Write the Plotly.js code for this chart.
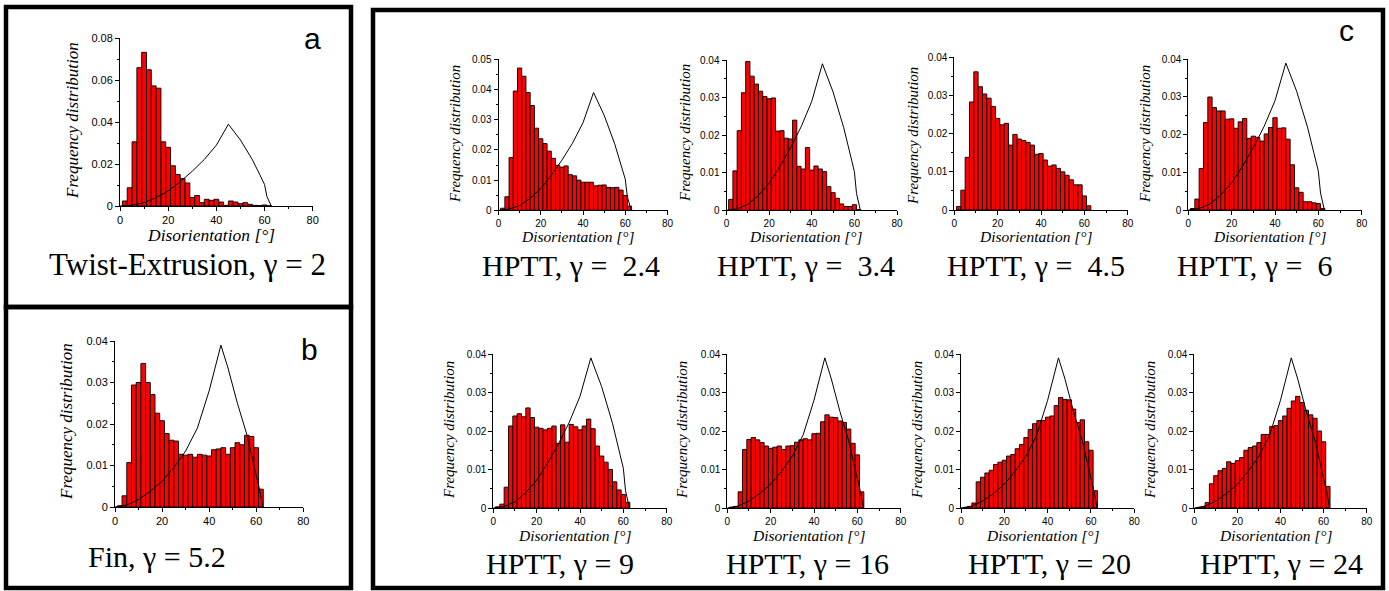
<!DOCTYPE html>
<html><head><meta charset="utf-8">
<script src="https://cdn.plot.ly/plotly-3.0.1.min.js"></script>
<style>html,body{margin:0;padding:0;background:#fff;}#chart{width:1389px;height:591px;}</style>
</head><body><div id="chart"></div>
<script>
// ---------- data ----------
const binCenters = [2,4,6,8,10,12,14,16,18,20,22,24,26,28,30,32,34,36,38,40,42,44,46,48,50,52,54,56,58,60,62];

const freqTwistExtrusion = [0.0024,0.0087,0.0306,0.0660,0.0733,0.0650,0.0573,0.0562,0.0306,0.0280,0.0192,0.0150,0.0131,0.0110,0.0041,0.0050,0.0016,0.0032,0.0027,0.0032,0.0019,0.0003,0.0024,0.0019,0.0011,0.0016,0.0008,0.0003,0.0002,0.0005,0.0001];
const freqFin = [0.0003,0.0027,0.0107,0.0294,0.0300,0.0346,0.0300,0.0271,0.0226,0.0208,0.0177,0.0161,0.0159,0.0127,0.0125,0.0127,0.0120,0.0127,0.0125,0.0123,0.0138,0.0140,0.0143,0.0127,0.0143,0.0155,0.0150,0.0173,0.0170,0.0143,0.0043];
const freqHPTT_2_4 = [0.0007,0.0045,0.0175,0.0395,0.0471,0.0444,0.0390,0.0347,0.0272,0.0237,0.0221,0.0196,0.0172,0.0149,0.0143,0.0147,0.0118,0.0114,0.0100,0.0093,0.0093,0.0093,0.0081,0.0083,0.0084,0.0076,0.0075,0.0076,0.0067,0.0049,0.0014];
const freqHPTT_3_4 = [0.0029,0.0105,0.0212,0.0313,0.0396,0.0357,0.0336,0.0317,0.0303,0.0297,0.0299,0.0211,0.0212,0.0192,0.0190,0.0240,0.0117,0.0110,0.0167,0.0107,0.0118,0.0110,0.0103,0.0063,0.0047,0.0032,0.0017,0.0010,0.0010,0.0015,0.0002];
const freqHPTT_4_5 = [0.0009,0.0052,0.0138,0.0283,0.0362,0.0323,0.0304,0.0293,0.0271,0.0240,0.0223,0.0227,0.0170,0.0198,0.0186,0.0182,0.0177,0.0170,0.0146,0.0148,0.0131,0.0115,0.0118,0.0109,0.0100,0.0091,0.0079,0.0066,0.0066,0.0037,0.0011];
const freqHPTT_6 = [0.0004,0.0029,0.0110,0.0232,0.0300,0.0272,0.0263,0.0263,0.0241,0.0242,0.0217,0.0234,0.0243,0.0190,0.0196,0.0193,0.0183,0.0202,0.0219,0.0245,0.0217,0.0218,0.0188,0.0120,0.0059,0.0047,0.0022,0.0022,0.0019,0.0017,0.0004];
const freqHPTT_9 = [0.0003,0.0010,0.0054,0.0213,0.0239,0.0245,0.0237,0.0260,0.0235,0.0210,0.0207,0.0203,0.0207,0.0213,0.0168,0.0216,0.0171,0.0217,0.0211,0.0203,0.0213,0.0231,0.0206,0.0161,0.0135,0.0119,0.0100,0.0068,0.0047,0.0035,0.0015];
const freqHPTT_16 = [0.0002,0.0004,0.0042,0.0152,0.0178,0.0183,0.0177,0.0170,0.0161,0.0155,0.0158,0.0161,0.0152,0.0161,0.0162,0.0171,0.0177,0.0180,0.0177,0.0193,0.0194,0.0224,0.0242,0.0236,0.0235,0.0226,0.0222,0.0205,0.0168,0.0138,0.0042];
const freqHPTT_20 = [0.0001,0.0004,0.0013,0.0068,0.0080,0.0091,0.0098,0.0113,0.0119,0.0124,0.0135,0.0139,0.0154,0.0165,0.0183,0.0204,0.0219,0.0227,0.0227,0.0236,0.0239,0.0266,0.0287,0.0282,0.0281,0.0257,0.0222,0.0229,0.0172,0.0150,0.0045];
const freqHPTT_24 = [0.0001,0.0003,0.0014,0.0063,0.0084,0.0097,0.0103,0.0120,0.0116,0.0123,0.0131,0.0150,0.0157,0.0161,0.0170,0.0191,0.0191,0.0212,0.0214,0.0227,0.0239,0.0259,0.0278,0.0290,0.0274,0.0254,0.0242,0.0233,0.0200,0.0172,0.0056];

// random (Mackenzie) reference curve, two drawn variants
const curveKinkX = [0,5,10,15,20,25,30,35,40,45,50,55,58,60,61,62,62.8];
const curveKinkY = [0,0.0004,0.0016,0.0040,0.0072,0.0116,0.0166,0.0222,0.0290,0.0390,0.0315,0.0220,0.0150,0.0103,0.0045,0.0015,0];
const curveSmoothX = [0,5,10,15,20,25,30,35,40,45,48,52,56,59.5,61.5,62.8];
const curveSmoothY = [0,0.0005,0.0018,0.0038,0.0062,0.0095,0.0135,0.0190,0.0280,0.0390,0.0335,0.0250,0.0175,0.0092,0.0040,0];

const xTickVals = [0,20,40,60,80];
const xTickText = ['0','20','40','60','80'];
const xMinorVals = [10,30,50,70];
const yTicks08 = [0,0.02,0.04,0.06,0.08], yText08 = ['0','0.02','0.04','0.06','0.08'], yMinor08 = [0.01,0.03,0.05,0.07];
const yTicks05 = [0,0.01,0.02,0.03,0.04,0.05], yText05 = ['0','0.01','0.02','0.03','0.04','0.05'], yMinor05 = [0.005,0.015,0.025,0.035,0.045];
const yTicks04 = [0,0.01,0.02,0.03,0.04], yText04 = ['0','0.01','0.02','0.03','0.04'], yMinor04 = [0.005,0.015,0.025,0.035];

const captionTexts = ['Twist-Extrusion, γ = 2','Fin, γ = 5.2','HPTT, γ =\u00A0 2.4','HPTT, γ =\u00A0 3.4','HPTT, γ =\u00A0 4.5','HPTT, γ =\u00A0 6','HPTT, γ = 9','HPTT, γ = 16','HPTT, γ = 20','HPTT, γ = 24'];
const yTitle = 'Frequency distribution';
const xTitle = 'Disorientation [°]';

// ---------- layout (pixel geometry) ----------
const W = 1389, H = 591;
const px = v => v / W, py = v => 1 - v / H;

const panels = [
  {data: freqTwistExtrusion, curve: 'kink',  x0:120,   x1:312.7,  yt:38.3, yb:206, yr:0.08, yt_v:yTicks08, yt_t:yText08, ym:yMinor08, big:true,  ylab:[72,121],  xlab:[211,235], cap:[187,264]},
  {data: freqFin,            curve: 'smooth',x0:115,   x1:303.3,  yt:341,  yb:507, yr:0.04, yt_v:yTicks04, yt_t:yText04, ym:yMinor04, big:true,  ylab:[66,422],  xlab:null,      cap:[157,556]},
  {data: freqHPTT_2_4,       curve: 'kink',  x0:498.5, x1:667.5,  yt:59.3, yb:210.3,yr:0.05, yt_v:yTicks05, yt_t:yText05, ym:yMinor05, big:false, ylab:[455,134], xlab:[578,236], cap:[571,265]},
  {data: freqHPTT_3_4,       curve: 'kink',  x0:726.5, x1:897,    yt:60,   yb:210.3,yr:0.04, yt_v:yTicks04, yt_t:yText04, ym:yMinor04, big:false, ylab:[685,133], xlab:[806,236], cap:[806,265]},
  {data: freqHPTT_4_5,       curve: null,    x0:954.3, x1:1127.7, yt:57.3, yb:210,  yr:0.04, yt_v:yTicks04, yt_t:yText04, ym:yMinor04, big:false, ylab:[913,136], xlab:[1036,236],cap:[1036,265]},
  {data: freqHPTT_6,         curve: 'kink',  x0:1188.3,x1:1361.7, yt:59.3, yb:210,  yr:0.04, yt_v:yTicks04, yt_t:yText04, ym:yMinor04, big:false, ylab:[1145,134],xlab:[1270,236],cap:[1254,265]},
  {data: freqHPTT_9,         curve: 'kink',  x0:493.3, x1:666.7,  yt:354,  yb:508,  yr:0.04, yt_v:yTicks04, yt_t:yText04, ym:yMinor04, big:false, ylab:[449,430], xlab:[575,535], cap:[560,563]},
  {data: freqHPTT_16,        curve: 'smooth',x0:727.3, x1:900.7,  yt:354,  yb:508,  yr:0.04, yt_v:yTicks04, yt_t:yText04, ym:yMinor04, big:false, ylab:[682,430], xlab:[809,535], cap:[807,563]},
  {data: freqHPTT_20,        curve: 'smooth',x0:961,   x1:1134.3, yt:354,  yb:508,  yr:0.04, yt_v:yTicks04, yt_t:yText04, ym:yMinor04, big:false, ylab:[917,430], xlab:[1043,535],cap:[1049,563]},
  {data: freqHPTT_24,        curve: 'smooth',x0:1194.3,x1:1366.7, yt:354,  yb:508,  yr:0.04, yt_v:yTicks04, yt_t:yText04, ym:yMinor04, big:false, ylab:[1150,430],xlab:[1276,535],cap:[1281,563]}
];

const sans = 'Liberation Sans, Arial, sans-serif';
const serif = 'Liberation Serif, Times New Roman, serif';

const traces = [];
const layout = {
  width: W, height: H, margin: {l:0, r:0, t:0, b:0},
  paper_bgcolor: '#ffffff', plot_bgcolor: 'rgba(0,0,0,0)',
  showlegend: false, bargap: 0,
  annotations: [], shapes: []
};

panels.forEach((p, i) => {
  const n = i === 0 ? '' : String(i + 1);
  const xa = 'x' + n, ya = 'y' + n;
  traces.push({
    type: 'bar', x: binCenters, y: p.data, width: 2,
    marker: {color: '#ff0000', line: {color: '#000000', width: 0.9}},
    xaxis: xa, yaxis: ya, hoverinfo: 'skip'
  });
  if (p.curve) {
    traces.push({
      type: 'scatter', mode: 'lines',
      x: p.curve === 'kink' ? curveKinkX : curveSmoothX,
      y: p.curve === 'kink' ? curveKinkY : curveSmoothY,
      line: {color: '#000000', width: 1},
      xaxis: xa, yaxis: ya, hoverinfo: 'skip', cliponaxis: false
    });
  }
  const tf = {family: sans, size: p.big ? 11 : 10, color: '#000'};
  layout['xaxis' + n] = {
    domain: [px(p.x0), px(p.x1)], range: [0, 80], anchor: ya,
    showline: true, linecolor: '#000', linewidth: 1,
    ticks: 'outside', ticklen: 4, tickwidth: 1, tickcolor: '#000',
    tickmode: 'array', tickvals: xTickVals, ticktext: xTickText, tickfont: tf,
    minor: {tickmode: 'array', tickvals: xMinorVals, ticks: 'outside', ticklen: 2, tickcolor: '#000', tickwidth: 1},
    showgrid: false, zeroline: false, fixedrange: true
  };
  layout['yaxis' + n] = {
    domain: [py(p.yb), py(p.yt)], range: [0, p.yr], anchor: xa,
    showline: true, linecolor: '#000', linewidth: 1,
    ticks: 'outside', ticklen: 4, tickwidth: 1, tickcolor: '#000',
    tickmode: 'array', tickvals: p.yt_v, ticktext: p.yt_t, tickfont: tf,
    minor: {tickmode: 'array', tickvals: p.ym, ticks: 'outside', ticklen: 2, tickcolor: '#000', tickwidth: 1},
    showgrid: false, zeroline: false, fixedrange: true
  };
  layout.annotations.push({
    xref: 'paper', yref: 'paper', x: px(p.ylab[0]), y: py(p.ylab[1]),
    xanchor: 'center', yanchor: 'middle', textangle: -90, showarrow: false,
    text: '<i>' + yTitle + '</i>', font: {family: serif, size: p.big ? 17 : 15, color: '#000'}
  });
  if (p.xlab) {
    layout.annotations.push({
      xref: 'paper', yref: 'paper', x: px(p.xlab[0]), y: py(p.xlab[1]),
      xanchor: 'center', yanchor: 'middle', showarrow: false,
      text: '<i>' + xTitle + '</i>', font: {family: serif, size: p.big ? 17.5 : 15.5, color: '#000'}
    });
  }
  layout.annotations.push({
    xref: 'paper', yref: 'paper', x: px(p.cap[0]), y: py(p.cap[1]),
    xanchor: 'center', yanchor: 'middle', showarrow: false,
    text: captionTexts[i], font: {family: serif, size: i === 0 ? 31 : 30, color: '#000'}
  });
});

// panel letters
[['a', 312, 39], ['b', 309, 349], ['c', 1346, 30]].forEach(([t, x, y]) => {
  layout.annotations.push({
    xref: 'paper', yref: 'paper', x: px(x), y: py(y), xanchor: 'center', yanchor: 'middle',
    showarrow: false, text: t, font: {family: sans, size: 30, color: '#000'}
  });
});

// frame boxes
[[6, 7, 351, 307], [6, 307, 351, 588], [373, 10, 1383, 588]].forEach(([x0, y0, x1, y1]) => {
  layout.shapes.push({
    type: 'rect', xref: 'paper', yref: 'paper',
    x0: px(x0), x1: px(x1), y0: py(y1), y1: py(y0),
    line: {color: '#000', width: 4.5}, fillcolor: 'rgba(0,0,0,0)'
  });
});

Plotly.newPlot('chart', traces, layout, {staticPlot: true, displayModeBar: false});
</script>
</body></html>
